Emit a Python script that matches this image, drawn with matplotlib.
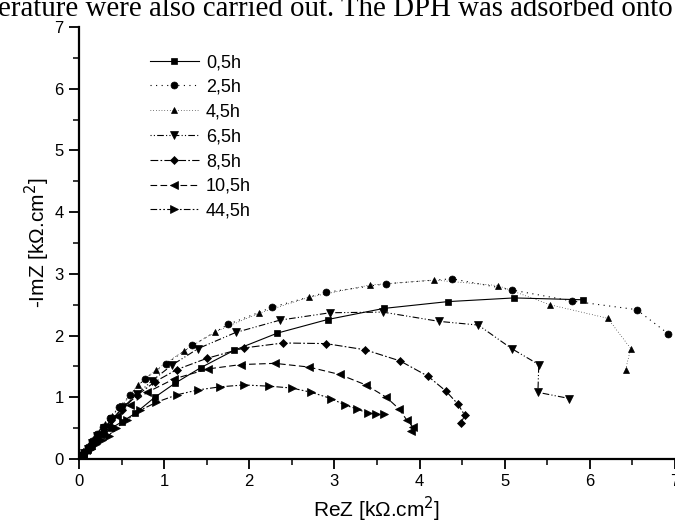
import matplotlib
matplotlib.use("Agg")
import matplotlib.pyplot as plt
from matplotlib.ticker import MultipleLocator

plt.rcParams['font.family'] = ['Liberation Sans', 'DejaVu Sans']

labels = ["0,5h", "2,5h", "4,5h", "6,5h", "8,5h", "10,5h", "44,5h"]

re_05 = [0.03, 0.06, 0.10, 0.15, 0.21, 0.29, 0.38, 0.50, 0.66, 0.89, 1.13, 1.43, 1.82, 2.33, 2.92, 3.58, 4.33, 5.11, 5.92]
im_05 = [0.04, 0.08, 0.14, 0.21, 0.30, 0.40, 0.50, 0.60, 0.74, 1.00, 1.23, 1.48, 1.76, 2.04, 2.26, 2.44, 2.55, 2.61, 2.58]

re_25 = [0.03, 0.06, 0.10, 0.15, 0.21, 0.28, 0.36, 0.47, 0.60, 0.77, 1.02, 1.33, 1.75, 2.27, 2.90, 3.61, 4.38, 5.08, 5.79, 6.55, 6.92]
im_25 = [0.05, 0.11, 0.19, 0.29, 0.40, 0.52, 0.66, 0.84, 1.03, 1.30, 1.54, 1.84, 2.18, 2.46, 2.70, 2.84, 2.92, 2.74, 2.56, 2.42, 2.03]

re_45 = [0.02, 0.05, 0.08, 0.12, 0.17, 0.23, 0.30, 0.39, 0.49, 0.69, 0.91, 1.23, 1.60, 2.11, 2.70, 3.42, 4.17, 4.92, 5.53, 6.21, 6.48, 6.42]
im_45 = [0.04, 0.09, 0.15, 0.23, 0.33, 0.44, 0.56, 0.70, 0.84, 1.20, 1.45, 1.75, 2.06, 2.36, 2.62, 2.82, 2.90, 2.81, 2.50, 2.28, 1.79, 1.45]

re_65 = [0.03, 0.06, 0.10, 0.15, 0.21, 0.29, 0.39, 0.52, 0.68, 0.86, 1.09, 1.40, 1.84, 2.36, 2.95, 3.57, 4.23, 4.69, 5.08, 5.40, 5.39, 5.76]
im_65 = [0.05, 0.10, 0.17, 0.26, 0.37, 0.50, 0.65, 0.84, 1.05, 1.27, 1.52, 1.79, 2.05, 2.25, 2.37, 2.38, 2.23, 2.17, 1.79, 1.53, 1.08, 0.98]

re_85 = [0.03, 0.06, 0.10, 0.15, 0.21, 0.29, 0.38, 0.50, 0.68, 0.89, 1.15, 1.50, 1.94, 2.40, 2.90, 3.36, 3.77, 4.10, 4.31, 4.45, 4.53, 4.49]
im_85 = [0.05, 0.10, 0.17, 0.26, 0.36, 0.49, 0.63, 0.80, 1.03, 1.25, 1.45, 1.63, 1.80, 1.88, 1.87, 1.77, 1.59, 1.34, 1.10, 0.89, 0.71, 0.59]

re_105 = [0.02, 0.05, 0.08, 0.12, 0.18, 0.25, 0.34, 0.45, 0.60, 0.80, 1.12, 1.52, 1.90, 2.30, 2.70, 3.06, 3.37, 3.61, 3.76, 3.85, 3.92, 3.90]
im_105 = [0.03, 0.08, 0.14, 0.21, 0.30, 0.41, 0.54, 0.69, 0.87, 1.08, 1.30, 1.46, 1.53, 1.55, 1.49, 1.37, 1.20, 1.00, 0.81, 0.63, 0.52, 0.46]

re_445 = [0.02, 0.05, 0.09, 0.14, 0.20, 0.27, 0.35, 0.44, 0.56, 0.72, 0.91, 1.15, 1.40, 1.66, 1.94, 2.23, 2.50, 2.73, 2.96, 3.13, 3.27, 3.39, 3.49, 3.58]
im_445 = [0.02, 0.06, 0.11, 0.17, 0.24, 0.31, 0.38, 0.51, 0.63, 0.79, 0.92, 1.04, 1.12, 1.17, 1.20, 1.18, 1.15, 1.08, 0.98, 0.87, 0.81, 0.74, 0.73, 0.73]

series = [
    (re_05, im_05, 's', '-', 0.8),
    (re_25, im_25, 'o', (0, (1, 4)), 0.8),
    (re_45, im_45, '^', (0, (1, 3)), 0.5),
    (re_65, im_65, 'v', (0, (1, 2, 1, 2, 6, 2)), 0.8),
    (re_85, im_85, 'D', (0, (7, 2, 1.5, 2)), 0.8),
    (re_105, im_105, '<', (0, (6, 3)), 0.8),
    (re_445, im_445, '>', (0, (6, 2, 1.5, 2, 1.5, 2)), 0.8),
]
msizes = [4.5, 5, 5, 5.5, 4.5, 5.5, 5.5]

W, H = 675, 531
fig = plt.figure(figsize=(W / 100, H / 100), dpi=100)
ax = fig.add_axes([79 / W, 72 / H, (675 - 79) / W, 432 / H])

for (x, y, m, ls, lw), lab, ms in zip(series, labels, msizes):
    ax.plot(x, y, marker=m, linestyle=ls, linewidth=lw, color='black',
            markersize=ms, markeredgewidth=0.5, label=lab)

ax.set_xlim(0, 7)
ax.set_ylim(0, 7)
ax.xaxis.set_major_locator(MultipleLocator(1))
ax.xaxis.set_minor_locator(MultipleLocator(0.5))
ax.yaxis.set_major_locator(MultipleLocator(1))
ax.yaxis.set_minor_locator(MultipleLocator(0.5))
for s in ['top', 'right']:
    ax.spines[s].set_visible(False)
for s in ['left', 'bottom']:
    ax.spines[s].set_linewidth(1.6)
ax.tick_params(which='major', direction='out', length=7, width=1.3, labelsize=12, pad=4)
ax.tick_params(which='minor', direction='out', length=4, width=1.1)

ax.set_xlabel("ReZ [k\u03a9.cm$^2$]", fontsize=15, labelpad=4)
ax.set_ylabel("-ImZ [k\u03a9.cm$^2$]", fontsize=15, labelpad=2)

leg = ax.legend(loc='upper left', bbox_to_anchor=(150 / W, 1 - 54 / H),
                bbox_transform=fig.transFigure, frameon=False, fontsize=13,
                handlelength=2.7, handletextpad=0.4, labelspacing=0.43,
                borderpad=0, borderaxespad=0, numpoints=1)

fig.text(-0.003, 1 - 16 / H, "erature were also carried out. The DPH was adsorbed onto",
         family=['Liberation Serif', 'DejaVu Serif'], fontsize=20.8, va='baseline', ha='left')

fig.savefig("out.png", dpi=100)
